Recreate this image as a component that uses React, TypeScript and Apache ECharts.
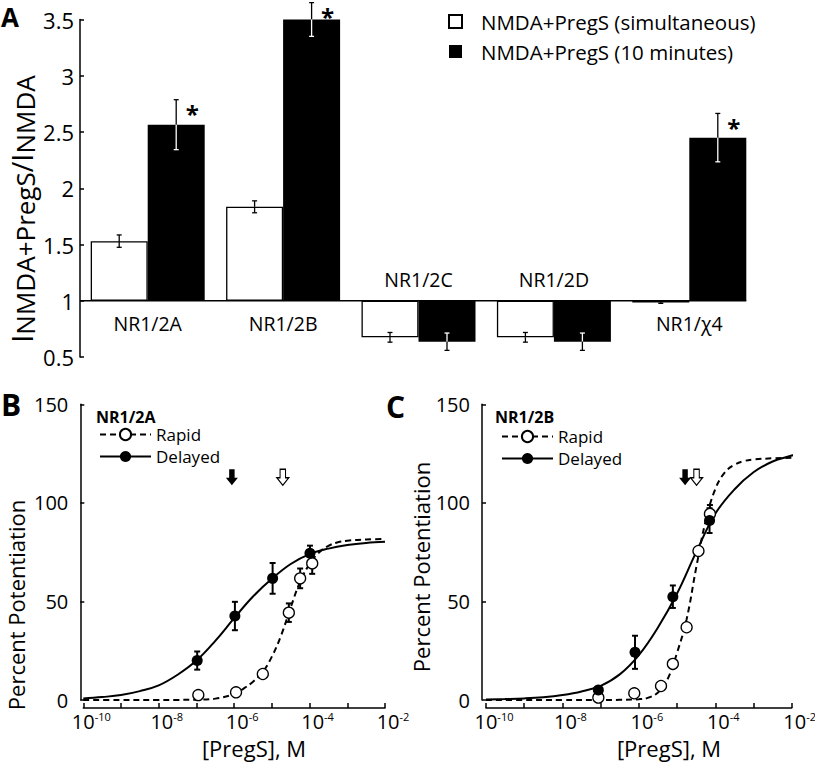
import React, { useEffect, useRef } from "react";
import * as echarts from "echarts";

const FONT = "'Open Sans', sans-serif";

// ---------------- Panel A ----------------
const categories = ["NR1/2A", "NR1/2B", "NR1/2C", "NR1/2D", "NR1/χ4"];
const seriesNames = ["NMDA+PregS (simultaneous)", "NMDA+PregS (10 minutes)"];
const simultaneous = [1.53, 1.835, 0.675, 0.675, 0.985];
const simultaneousErr = [0.055, 0.053, 0.043, 0.043, 0.008];
const tenMinutes = [2.565, 3.5, 0.636, 0.636, 2.45];
const tenMinutesErr = [0.222, 0.15, 0.077, 0.077, 0.215];
const tenMinutesSignificant = [true, true, false, false, true];
const aTicks = [0.5, 1, 1.5, 2, 2.5, 3, 3.5];

// ---------------- Panels B and C (x = log10 [PregS] in M) ----------------
const xLabelExponents = [-10, -8, -6, -4, -2];
const potentiationTicks = [0, 50, 100, 150];

// B: NR1/2A
const bRapidLogConc = [-6.95, -5.95, -5.24, -4.55, -4.25, -3.93];
const bRapidMean = [2.5, 3.9, 13.2, 44.3, 61.7, 69.3];
const bRapidSem = [0, 0, 0, 4.7, 5, 5.3];
const bDelayedLogConc = [-6.98, -5.98, -4.98, -3.99];
const bDelayedMean = [20, 42.6, 61.7, 74.4];
const bDelayedSem = [4.6, 7.2, 7.8, 3.9];
const bRapidFit = [
  [-10, 0], [-9, 0], [-8, 0], [-7.5, 0.05], [-7, 0.15], [-6.5, 0.7], [-6, 3], [-5.75, 5.8],
  [-5.5, 9.3], [-5.25, 14], [-5, 22], [-4.75, 33], [-4.5, 47], [-4.25, 60], [-4, 69],
  [-3.75, 74.8], [-3.5, 78.2], [-3.25, 80], [-3, 80.8], [-2.5, 81.4], [-2, 81.7],
];
const bDelayedFit = [
  [-10, 0.8], [-9.5, 1.5], [-9, 2.5], [-8.5, 4.5], [-8, 7.4], [-7.5, 12.8], [-7, 20],
  [-6.5, 30], [-6, 41.5], [-5.5, 52.5], [-5, 61.5], [-4.5, 69], [-4, 74], [-3.5, 76.8],
  [-3, 78.6], [-2.5, 79.7], [-2, 80.3],
];
const bEC50Delayed = -6.06;
const bEC50Rapid = -4.71;

// C: NR1/2B
const cRapidLogConc = [-7.06, -6.12, -5.42, -5.11, -4.75, -4.44, -4.14];
const cRapidMean = [1.2, 3.4, 7.1, 18.3, 36.9, 75.6, 94.4];
const cRapidSem = [0, 0, 0, 0, 0, 0, 4.5];
const cDelayedLogConc = [-7.06, -6.1, -5.11, -4.15];
const cDelayedMean = [5.1, 24.2, 52.4, 91];
const cDelayedSem = [0, 8.4, 5.7, 6.3];
const cRapidFit = [
  [-10, 0], [-9, 0], [-8, 0], [-7, 0], [-6.5, 0.1], [-6, 0.4], [-5.75, 1.2], [-5.5, 3.8],
  [-5.25, 10.5], [-5, 24], [-4.75, 41], [-4.5, 67], [-4.25, 91], [-4, 107], [-3.75, 115.5],
  [-3.5, 119.3], [-3.25, 121.2], [-3, 122], [-2.5, 122.6], [-2, 122.9], [-1.78, 123],
];
const cDelayedFit = [
  [-10, 0.3], [-9.5, 0.5], [-9, 0.8], [-8.5, 1.4], [-8, 2.5], [-7.5, 4.3], [-7, 7.2],
  [-6.5, 13], [-6, 22.8], [-5.5, 36.8], [-5, 54], [-4.5, 75], [-4, 94.5], [-3.5, 106.8],
  [-3, 115.5], [-2.5, 121], [-2, 124], [-1.78, 125.5],
];
const cEC50Delayed = -4.79;
const cEC50Rapid = -4.49;

// ---------------- styles ----------------
const BAR_W = 57;
const ARROW_Y = 113;
const ARROW_PATH = "path://M3,0L8,0L8,8L11,8L5.5,15L0,8L3,8Z";
const AXIS_LINE = { color: "#000", width: 1.5 };

function zip(xs: number[], ys: number[]) {
  return xs.map((x, i) => [x, ys[i]]);
}

function dosePanel(
  g: number,
  rapidFit: number[][],
  delayedFit: number[][],
  rX: number[], rY: number[], rE: number[],
  dX: number[], dY: number[], dE: number[],
  ec50D: number, ec50R: number
) {
  const errs: number[][] = [];
  rX.forEach((x, i) => { if (rE[i] > 0) errs.push([x, rY[i], rE[i]]); });
  dX.forEach((x, i) => { if (dE[i] > 0) errs.push([x, dY[i], dE[i]]); });
  const common = { xAxisIndex: g, yAxisIndex: g };
  return [
    {
      ...common, type: "line", name: "Rapid", data: rapidFit, smooth: 0.4,
      showSymbol: false, symbol: "circle", symbolSize: 11, clip: false, silent: true, z: 2,
      lineStyle: { color: "#000", width: 2, type: [6, 4] },
      itemStyle: { color: "#fff", borderColor: "#000", borderWidth: 1.3, opacity: 1 },
    },
    {
      ...common, type: "line", name: "Delayed", data: delayedFit, smooth: 0.4,
      showSymbol: false, symbol: "circle", symbolSize: 11, clip: false, silent: true, z: 2,
      lineStyle: { color: "#000", width: 2, type: "solid" },
      itemStyle: { color: "#000", opacity: 1 },
    },
    {
      ...common, type: "custom", name: "SEM", data: errs, z: 3, silent: true,
      renderItem: (params: any, api: any) => {
        const x = api.value(0), m = api.value(1), e = api.value(2);
        const t = api.coord([x, m + e]);
        const b = api.coord([x, m - e]);
        const st = { stroke: "#000", lineWidth: 2 };
        return {
          type: "group",
          children: [
            { type: "line", shape: { x1: t[0], y1: t[1], x2: b[0], y2: b[1] }, style: st },
            { type: "line", shape: { x1: t[0] - 3, y1: t[1], x2: t[0] + 3, y2: t[1] }, style: st },
            { type: "line", shape: { x1: b[0] - 3, y1: b[1], x2: b[0] + 3, y2: b[1] }, style: st },
          ],
        };
      },
    },
    {
      ...common, type: "scatter", name: "Rapid", data: zip(rX, rY), symbol: "circle", symbolSize: 11, z: 4,
      itemStyle: { color: "#fff", borderColor: "#000", borderWidth: 1.3, opacity: 1 },
    },
    {
      ...common, type: "scatter", name: "Delayed", data: zip(dX, dY), symbol: "circle", symbolSize: 11, z: 4,
      itemStyle: { color: "#000", opacity: 1 },
    },
    {
      ...common, type: "scatter", name: "EC50", symbol: ARROW_PATH, symbolSize: [12, 16], z: 4, silent: true,
      itemStyle: { opacity: 1 },
      data: [
        { value: [ec50D, ARROW_Y], itemStyle: { color: "#000", opacity: 1 } },
        { value: [ec50R, ARROW_Y], itemStyle: { color: "#fff", borderColor: "#000", borderWidth: 1.2, opacity: 1 } },
      ],
    },
  ];
}

function doseXAxis(g: number) {
  return {
    type: "value", gridIndex: g, min: -10, max: -2, interval: 1, offset: 8,
    axisLine: { show: true, onZero: false, lineStyle: AXIS_LINE },
    axisTick: { show: true, inside: true, length: 5, lineStyle: AXIS_LINE },
    splitLine: { show: false },
    axisLabel: {
      margin: 3,
      formatter: (v: number) => (xLabelExponents.includes(v) ? `{b|10}{s|${v}}` : ""),
      rich: {
        b: { fontSize: 20, fontFamily: FONT, color: "#000", padding: [0, 0, 0, 16], lineHeight: 20 },
        s: { fontSize: 11, fontFamily: FONT, color: "#000", verticalAlign: "top", lineHeight: 11 },
      },
    },
  };
}

function doseYAxis(g: number, offset: number) {
  return {
    type: "value", gridIndex: g, min: potentiationTicks[0], max: potentiationTicks[potentiationTicks.length - 1],
    interval: potentiationTicks[1] - potentiationTicks[0], offset,
    axisLine: { show: true, lineStyle: AXIS_LINE },
    axisTick: { show: true, inside: true, length: 4, lineStyle: AXIS_LINE },
    splitLine: { show: false },
    axisLabel: { margin: 12, fontSize: 20, fontFamily: FONT, color: "#000" },
  };
}

function axisTitle(text: string, x: number, y: number, rotated: boolean, size: number) {
  return {
    type: "text", x, y, rotation: rotated ? Math.PI / 2 : 0, silent: true,
    style: {
      text, fontSize: size, lineHeight: size, fontFamily: FONT, fill: "#000",
      align: "center", verticalAlign: "middle",
    },
  };
}

function buildOption() {
  const errA: any[] = [];
  categories.forEach((_, i) => {
    errA.push([i, 0, simultaneous[i], simultaneousErr[i], 0]);
    errA.push([i, 1, tenMinutes[i], tenMinutesErr[i], tenMinutesSignificant[i] ? 1 : 0]);
  });

  const labelData = categories.map((c, i) => {
    const hangsDown = Math.max(simultaneous[i], tenMinutes[i]) < 1;
    return { name: c, value: [i, 0], label: { offset: [0, hangsDown ? -21 : 23] } };
  });

  const gridBase = { containLabel: false, outerBoundsMode: "none" };

  return {
    animation: false,
    textStyle: { fontFamily: FONT, color: "#000" },
    title: [
      { text: "A", left: 1, top: 4, padding: 0, textStyle: { fontSize: 26, fontWeight: "bold", fontFamily: FONT, color: "#000" } },
      { text: "B", left: 1, top: 389, padding: 0, textStyle: { fontSize: 30, fontWeight: "bold", fontFamily: FONT, color: "#000" } },
      { text: "C", left: 386, top: 391, padding: 0, textStyle: { fontSize: 30, fontWeight: "bold", fontFamily: FONT, color: "#000" } },
      { text: "NR1/2A", left: 96, top: 409, padding: 0, textStyle: { fontSize: 16, fontWeight: "bold", fontFamily: FONT, color: "#000" } },
      { text: "NR1/2B", left: 495, top: 409, padding: 0, textStyle: { fontSize: 16, fontWeight: "bold", fontFamily: FONT, color: "#000" } },
    ],
    legend: [
      {
        data: seriesNames, orient: "vertical", left: 448, top: 11, padding: 0, itemGap: 9,
        icon: "rect", itemWidth: 13, itemHeight: 13, selectedMode: false,
        textStyle: { fontSize: 20.5, fontFamily: FONT, color: "#000", padding: [0, 0, 0, 14] },
      },
      {
        data: ["Rapid", "Delayed"], orient: "vertical", left: 99, top: 426, padding: 0, itemGap: 5,
        itemWidth: 51, itemHeight: 14, selectedMode: false, lineStyle: { width: 2 },
        textStyle: { fontSize: 17, lineHeight: 17, fontFamily: FONT, color: "#000" },
      },
      {
        data: ["Rapid", "Delayed"], orient: "vertical", left: 501, top: 428, padding: 0, itemGap: 5,
        itemWidth: 51, itemHeight: 14, selectedMode: false, lineStyle: { width: 2 },
        textStyle: { fontSize: 17, lineHeight: 17, fontFamily: FONT, color: "#000" },
      },
    ],
    graphic: [
      {
        type: "text", x: 21, y: 209, rotation: Math.PI / 2, silent: true,
        style: {
          text: "{b|I}{s|NMDA+PregS}{b|/I}{s|NMDA}",
          fill: "#000", fontFamily: FONT, fontSize: 26, align: "center", verticalAlign: "middle",
          rich: {
            b: { fontSize: 29, lineHeight: 34, fontFamily: FONT, fill: "#000" },
            s: { fontSize: 26, lineHeight: 24, verticalAlign: "bottom", fontFamily: FONT, fill: "#000" },
          },
        },
      },
      axisTitle("Percent Potentiation", 16, 605, true, 22),
      axisTitle("Percent Potentiation", 421, 567, true, 22),
      axisTitle("[PregS], M", 254, 748, false, 22),
      axisTitle("[PregS], M", 669, 748, false, 22),
    ],
    grid: [
      { ...gridBase, left: 80, top: 19.5, width: 677, height: 337.5 },
      { ...gridBase, left: 83.3, top: 404.3, width: 301.7, height: 295.7 },
      { ...gridBase, left: 486, top: 404.3, width: 305.7, height: 295.7 },
    ],
    xAxis: [
      {
        type: "category", gridIndex: 0, data: categories,
        axisLine: { show: false }, axisTick: { show: false }, axisLabel: { show: false }, splitLine: { show: false },
      },
      doseXAxis(1),
      doseXAxis(2),
    ],
    yAxis: [
      {
        type: "value", gridIndex: 0, min: aTicks[0] - 1, max: aTicks[aTicks.length - 1] - 1, interval: aTicks[1] - aTicks[0],
        axisLine: { show: true, lineStyle: AXIS_LINE },
        axisTick: { show: true, inside: true, length: 4, lineStyle: AXIS_LINE },
        splitLine: { show: false },
        axisLabel: {
          margin: 6, fontSize: 22, fontFamily: FONT, color: "#000",
          formatter: (v: number) => String(Math.round((v + 1) * 100) / 100),
        },
      },
      doseYAxis(1, 3),
      doseYAxis(2, 4),
    ],
    series: [
      {
        type: "bar", name: seriesNames[0], xAxisIndex: 0, yAxisIndex: 0,
        data: simultaneous.map((v) => v - 1), barWidth: BAR_W, barGap: "0%", z: 2,
        itemStyle: { color: "#fff", borderColor: "#000", borderWidth: 1.3 },
      },
      {
        type: "bar", name: seriesNames[1], xAxisIndex: 0, yAxisIndex: 0,
        data: tenMinutes.map((v) => v - 1), barWidth: BAR_W, barGap: "0%", z: 2,
        itemStyle: { color: "#000" },
      },
      {
        type: "custom", name: "baseline", xAxisIndex: 0, yAxisIndex: 0, data: [[0, 0]], z: 3, silent: true,
        renderItem: (params: any, api: any) => {
          const y = api.coord([0, 0])[1];
          const x0 = params.coordSys.x;
          const x1 = api.coord([categories.length - 1, 0])[0] + BAR_W;
          return { type: "line", shape: { x1: x0, y1: y, x2: x1, y2: y }, style: { stroke: "#000", lineWidth: 1.5 } };
        },
      },
      {
        type: "custom", name: "SEM A", xAxisIndex: 0, yAxisIndex: 0, data: errA, z: 4, silent: true,
        renderItem: (params: any, api: any) => {
          const cat = api.value(0), s = api.value(1), v = api.value(2) - 1, e = api.value(3), sig = api.value(4);
          const c0 = api.coord([cat, 0]);
          const cx = c0[0] + (s === 0 ? -BAR_W / 2 : BAR_W / 2);
          const yBase = c0[1];
          const yV = api.coord([cat, v])[1];
          const yT = api.coord([cat, v + e])[1];
          const yB = api.coord([cat, v - e])[1];
          const lo = Math.min(yBase, yV), hi = Math.max(yBase, yV);
          const col = (y: number) => (s === 1 && y > lo + 0.5 && y < hi - 0.5 ? "#fff" : "#000");
          const children: any[] = [];
          const seg = (y1: number, y2: number) =>
            children.push({ type: "line", shape: { x1: cx, y1, x2: cx, y2 }, style: { stroke: col((y1 + y2) / 2), lineWidth: 1.3 } });
          const cap = (y: number) =>
            children.push({ type: "line", shape: { x1: cx - 2.5, y1: y, x2: cx + 2.5, y2: y }, style: { stroke: col(y), lineWidth: 1.3 } });
          seg(yT, yV); seg(yV, yB); cap(yT); cap(yB);
          if (sig) {
            children.push({
              type: "text", x: cx + 16, y: yT + 14,
              style: { text: "*", fill: "#000", fontSize: 24, fontWeight: "bold", fontFamily: FONT, align: "center", verticalAlign: "middle" },
            });
          }
          return { type: "group", children };
        },
      },
      {
        type: "scatter", name: "receptor", xAxisIndex: 0, yAxisIndex: 0, data: labelData, symbolSize: 0, silent: true, z: 5,
        itemStyle: { opacity: 1 },
        label: { show: true, position: "inside", formatter: "{b}", fontSize: 19.5, fontFamily: FONT, color: "#000", textBorderWidth: 0 },
      },
      ...dosePanel(1, bRapidFit, bDelayedFit, bRapidLogConc, bRapidMean, bRapidSem,
        bDelayedLogConc, bDelayedMean, bDelayedSem, bEC50Delayed, bEC50Rapid),
      ...dosePanel(2, cRapidFit, cDelayedFit, cRapidLogConc, cRapidMean, cRapidSem,
        cDelayedLogConc, cDelayedMean, cDelayedSem, cEC50Delayed, cEC50Rapid),
    ],
  };
}

export default function App() {
  const ref = useRef<HTMLDivElement>(null);
  useEffect(() => {
    document.body.style.margin = "0";
    const chart = echarts.init(ref.current!, null, { renderer: "svg" });
    chart.setOption(buildOption() as any);
    return () => chart.dispose();
  }, []);
  return <div ref={ref} style={{ width: 815, height: 767 }} />;
}
